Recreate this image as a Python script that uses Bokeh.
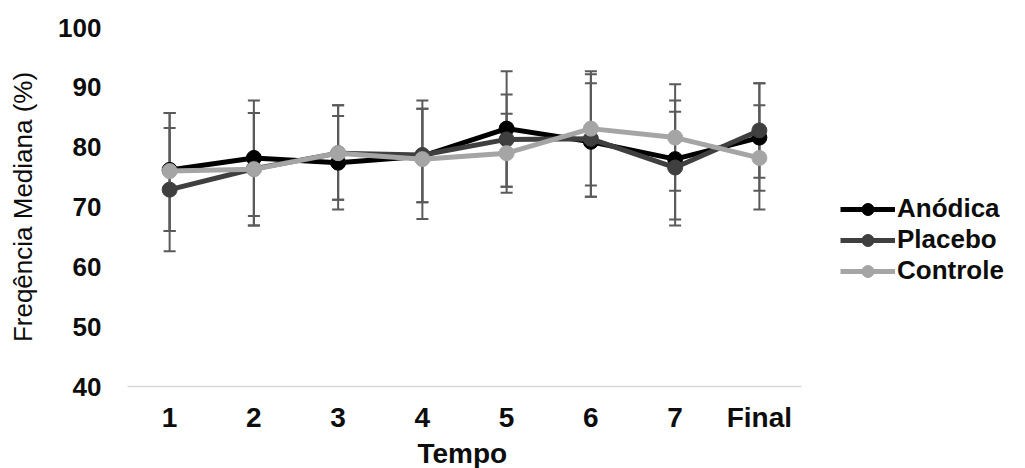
from bokeh.plotting import figure
from bokeh.models import ColumnDataSource, Whisker, TeeHead, Legend, LegendItem, Range1d, FixedTicker, Title
from bokeh.embed import file_html
from bokeh.resources import INLINE

# ---- data ----
categories = ["1", "2", "3", "4", "5", "6", "7", "Final"]

anodica = [76.2, 78.2, 77.4, 78.5, 83.1, 80.9, 78.0, 81.6]
anodica_hi = [85.7, 87.8, 85.2, 86.4, 92.7, 90.7, 87.8, 90.7]
anodica_lo = [66.0, 68.5, 69.6, 70.8, 73.4, 71.7, 67.9, 72.7]

placebo = [72.9, 76.4, 79.0, 78.7, 81.3, 81.4, 76.6, 82.8]
placebo_hi = [83.2, 85.7, 87.0, 86.4, 88.8, 92.2, 85.9, 90.7]
placebo_lo = [62.6, 66.9, 71.2, 70.8, 73.4, 71.7, 66.9, 74.9]

controle = [76.0, 76.3, 79.0, 78.0, 79.0, 83.1, 81.6, 78.2]
controle_hi = [85.7, 85.7, 87.0, 87.8, 85.6, 92.7, 90.5, 87.0]
controle_lo = [66.0, 66.9, 71.2, 68.0, 72.4, 73.6, 72.7, 69.6]

y_ticks = [40, 50, 60, 70, 80, 90, 100]

series = [
    ("Anódica", anodica, anodica_hi, anodica_lo, "#000000"),
    ("Placebo", placebo, placebo_hi, placebo_lo, "#3f3f3f"),
    ("Controle", controle, controle_hi, controle_lo, "#a5a5a5"),
]

FONT = "Liberation Sans"
ERR = "#5a5a5a"

# category positions 1..N on a numeric axis; extra room on the right holds the legend
xpos = list(range(1, len(categories) + 1))
n = len(categories)
px_per_cat = 674 / n
x_end = 0.5 + 898 / px_per_cat

p = figure(width=1025, height=468, output_backend="svg", toolbar_location=None,
           x_range=Range1d(0.5, x_end),
           y_range=Range1d(40, 100),
           min_border_left=127, min_border_right=0, min_border_top=27, min_border_bottom=81)

p.outline_line_color = None
p.xgrid.grid_line_color = None
p.ygrid.grid_line_color = None
p.background_fill_color = "white"
p.border_fill_color = "white"

# axes
p.yaxis.ticker = FixedTicker(ticks=y_ticks)
p.yaxis.axis_line_color = None
p.yaxis.major_tick_line_color = None
p.yaxis.minor_tick_line_color = None
p.yaxis.major_tick_out = 0
p.yaxis.major_tick_in = 0
p.yaxis.major_label_standoff = 26
p.yaxis.major_label_text_font = FONT
p.yaxis.major_label_text_font_size = "26px"
p.yaxis.major_label_text_font_style = "bold"
p.yaxis.major_label_text_color = "#0d0d0d"
p.yaxis.axis_label = "Freqência Mediana (%)"
p.yaxis.axis_label_text_font = FONT
p.yaxis.axis_label_text_font_size = "26px"
p.yaxis.axis_label_text_font_style = "normal"
p.yaxis.axis_label_text_color = "#0d0d0d"
p.yaxis.axis_label_standoff = 17

p.xaxis.ticker = FixedTicker(ticks=xpos)
p.xaxis.major_label_overrides = {x: c for x, c in zip(xpos, categories)}
p.xaxis.bounds = (0.5, n + 0.5)
p.xaxis.axis_line_color = "#d9d9d9"
p.xaxis.axis_line_width = 1.5
p.xaxis.major_tick_line_color = None
p.xaxis.minor_tick_line_color = None
p.xaxis.major_tick_out = 0
p.xaxis.major_tick_in = 0
p.xaxis.major_label_standoff = 15
p.xaxis.major_label_text_font = FONT
p.xaxis.major_label_text_font_size = "28px"
p.xaxis.major_label_text_font_style = "bold"
p.xaxis.major_label_text_color = "#0d0d0d"

# x-axis title, centred under the category part of the axis
x_title = Title(text="Tempo", align="left", offset=290, standoff=0,
                text_font=FONT, text_font_size="28px", text_font_style="bold",
                text_color="#0d0d0d")
p.add_layout(x_title, "below")

items = []
for name, vals, hi, lo, color in series:
    src = ColumnDataSource(dict(x=xpos, y=vals, hi=hi, lo=lo))
    w = Whisker(base="x", upper="hi", lower="lo", source=src, level="underlay",
                line_color=ERR, line_width=2,
                upper_head=TeeHead(size=12, line_color=ERR, line_width=2),
                lower_head=TeeHead(size=12, line_color=ERR, line_width=2))
    p.add_layout(w)

for name, vals, hi, lo, color in series:
    src = ColumnDataSource(dict(x=xpos, y=vals))
    r1 = p.line("x", "y", source=src, line_color=color, line_width=5)
    r2 = p.scatter("x", "y", source=src, size=15, fill_color=color, line_color=color)
    items.append(LegendItem(label=name, renderers=[r1, r2]))

legend = Legend(items=items, location=(713, 100), padding=0, margin=0, spacing=0,
                glyph_width=55, glyph_height=30, label_height=20, label_standoff=2,
                label_text_font=FONT, label_text_font_size="26px", label_text_font_style="bold",
                label_text_color="#0d0d0d",
                border_line_alpha=0, background_fill_alpha=0)
p.add_layout(legend, "center")

open("out.html", "w").write(file_html(p, INLINE))
